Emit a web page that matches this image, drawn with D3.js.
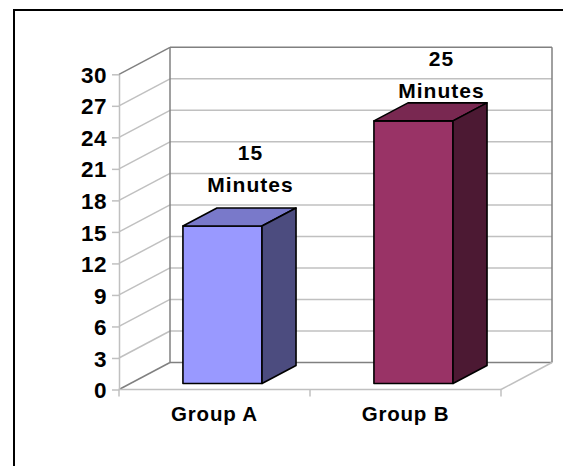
<!DOCTYPE html>
<html>
<head>
<meta charset="utf-8">
<script src="https://cdn.jsdelivr.net/npm/d3@7"></script>
<style>
  html, body { margin: 0; padding: 0; background: #fff; }
  svg { display: block; }
  text { font-family: "Liberation Sans", Arial, sans-serif; font-weight: bold; fill: #000; }
</style>
</head>
<body>
<svg id="chart" width="563" height="466"></svg>
<script>
// Chart data
const categories = ["Group A", "Group B"];
const minutes = [15, 25];
const barColors = ["#9999ff", "#993366"];
const yTicks = [0, 3, 6, 9, 12, 15, 18, 21, 24, 27, 30];
const valueUnit = "Minutes";

const W = 563, H = 466;
const svg = d3.select("#chart");

// Outer frame
svg.append("rect")
  .attr("x", 14).attr("y", 10)
  .attr("width", W + 10).attr("height", H + 10)
  .attr("fill", "none").attr("stroke", "#000").attr("stroke-width", 2);

// Plot geometry (front plane) and the oblique depth vector
const left = 119, right = 501;
const DX = 51, DY = -27;
const proj = (x, y, t) => [x + DX * t, y + DY * t];

const x = d3.scaleBand().domain(categories).range([left, right]);
const y = d3.scaleLinear().domain([0, 30]).range([389.5, 74.3]);

const light = "#c0c0c0", dark = "#808080";
const g = svg.append("g");

// Side wall diagonals and back wall gridlines
yTicks.forEach(v => {
  const edge = (v === 0 || v === 30);
  const [bx, by] = proj(left, y(v), 1);
  g.append("line")
    .attr("x1", left).attr("y1", y(v)).attr("x2", bx).attr("y2", by)
    .attr("stroke", edge ? dark : light).attr("stroke-width", 1.5);
  g.append("line")
    .attr("x1", bx).attr("y1", by).attr("x2", right + DX).attr("y2", by)
    .attr("stroke", edge ? dark : light).attr("stroke-width", 1.5);
});
// Wall corner edges
const [cx0, cy0] = proj(left, y(0), 1);
const [cx1, cy1] = proj(left, y(30), 1);
g.append("line").attr("x1", cx0).attr("y1", cy0).attr("x2", cx1).attr("y2", cy1)
  .attr("stroke", dark).attr("stroke-width", 1.5);
g.append("line").attr("x1", right + DX).attr("y1", cy0).attr("x2", right + DX).attr("y2", cy1)
  .attr("stroke", dark).attr("stroke-width", 1.5);

// Floor front and right edges
g.append("line").attr("x1", left).attr("y1", y(0)).attr("x2", right).attr("y2", y(0))
  .attr("stroke", light).attr("stroke-width", 1.5);
const [fx, fy] = proj(right, y(0), 1);
g.append("line").attr("x1", right).attr("y1", y(0)).attr("x2", fx).attr("y2", fy)
  .attr("stroke", light).attr("stroke-width", 1.5);

// Category boundary ticks below the floor
const bounds = categories.map(c => x(c)).concat([right]);
g.selectAll(".xtick").data(bounds).join("line")
  .attr("x1", d => d).attr("x2", d => d)
  .attr("y1", y(0)).attr("y2", y(0) + 7)
  .attr("stroke", light).attr("stroke-width", 1.5);

// Value axis
const yAxis = svg.append("g")
  .attr("transform", `translate(${left},0)`)
  .call(d3.axisLeft(y).tickValues(yTicks).tickSize(7).tickPadding(5).tickSizeOuter(0));
yAxis.select(".domain").attr("stroke", light).attr("stroke-width", 1.5);
yAxis.selectAll(".tick line").attr("stroke", light).attr("stroke-width", 1.5);
yAxis.selectAll(".tick text")
  .attr("dy", "0.36em")
  .style("font-size", "22.5px")
  .style("letter-spacing", "0.5px")
  .style("font-family", "'Liberation Sans', Arial, sans-serif")
  .style("font-weight", "bold")
  .attr("fill", "#000");

// Category labels
svg.selectAll(".cat").data(categories).join("text")
  .attr("x", d => x(d) + x.bandwidth() / 2)
  .attr("y", 421)
  .attr("text-anchor", "middle")
  .style("font-size", "20.5px")
  .style("letter-spacing", "0.8px")
  .text(d => d);

// 3D bars
const t0 = 0.22, t1 = 0.887;
const bw = x.bandwidth();
const barOff = bw * 0.276, barW = bw * 0.414;
const shade = (c, k) => d3.rgb(c).darker(k).formatHex();
const poly = pts => pts.map(p => p.join(",")).join(" ");

const bars = svg.selectAll(".bar").data(categories.map((c, i) => ({ c, v: minutes[i], col: barColors[i] })))
  .join("g");
bars.each(function(d) {
  const gb = d3.select(this);
  const x0 = x(d.c) + barOff, x1 = x0 + barW;
  const yb = y(0), yt = y(d.v);
  // front
  gb.append("polygon")
    .attr("points", poly([proj(x0, yb, t0), proj(x1, yb, t0), proj(x1, yt, t0), proj(x0, yt, t0)]))
    .attr("fill", d.col);
  // top
  gb.append("polygon")
    .attr("points", poly([proj(x0, yt, t0), proj(x1, yt, t0), proj(x1, yt, t1), proj(x0, yt, t1)]))
    .attr("fill", shade(d.col, 0.65));
  // right side
  gb.append("polygon")
    .attr("points", poly([proj(x1, yb, t0), proj(x1, yb, t1), proj(x1, yt, t1), proj(x1, yt, t0)]))
    .attr("fill", shade(d.col, 1.95));
  gb.selectAll("polygon")
    .attr("stroke", "#000").attr("stroke-width", 1.6).attr("stroke-linejoin", "round");
});

// Value labels above each bar
const labelY = d3.scaleLinear().domain([0, 30]).range([333, 51]);
const labels = svg.selectAll(".val").data(categories.map((c, i) => ({ c, v: minutes[i] })))
  .join("text")
  .attr("text-anchor", "middle")
  .style("font-size", "21px")
  .style("letter-spacing", "1px");
labels.each(function(d) {
  const t = d3.select(this);
  const cx = x(d.c) + barOff + barW / 2 + DX * t0 + 28;
  const by = labelY(d.v);
  t.append("tspan").attr("x", cx).attr("y", by - 32).text(d.v);
  t.append("tspan").attr("x", cx).attr("y", by).text(valueUnit);
});
</script>
</body>
</html>
